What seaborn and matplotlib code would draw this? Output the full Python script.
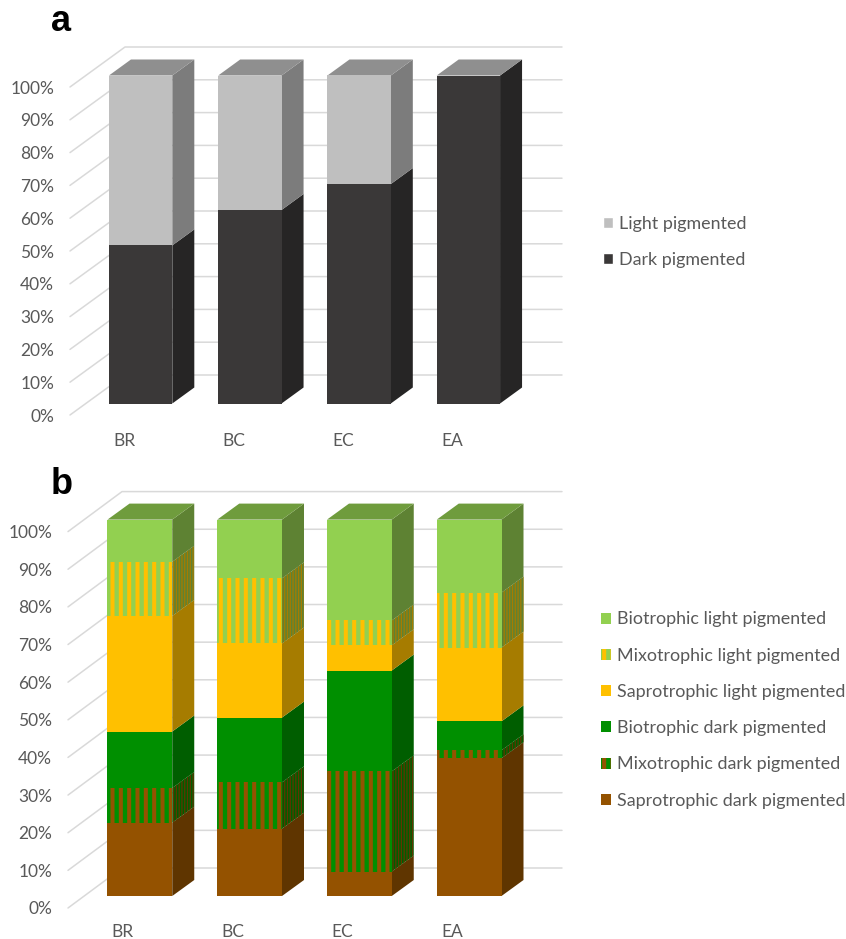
import matplotlib
matplotlib.use("Agg")
import matplotlib.pyplot as plt
import seaborn as sns
from matplotlib.patches import Patch, Polygon
from matplotlib.transforms import Affine2D, IdentityTransform

W, H = 846, 939

sites = ["BR", "BC", "EC", "EA"]
ticks = [0, 10, 20, 30, 40, 50, 60, 70, 80, 90, 100]
tick_labels = ["0%", "10%", "20%", "30%", "40%", "50%", "60%", "70%", "80%", "90%", "100%"]

# panel a
dark = [48.2, 59.0, 66.9, 100.0]
light = [51.8, 41.0, 33.1, 0.0]

# panel b
sap_dark = [19.5, 17.9, 6.5, 36.6]
mixo_dark = [9.2, 12.3, 26.6, 2.1]
bio_dark = [15.0, 17.2, 26.8, 7.7]
sap_light = [30.7, 19.7, 6.7, 19.6]
mixo_light = [14.4, 17.3, 6.6, 14.6]
bio_light = [11.2, 15.6, 26.8, 19.4]

GREY_TXT = "#595959"
GRID = "#D9D9D9"
C_LGREEN, C_ORANGE, C_GREEN, C_BROWN = "#92D050", "#FFC000", "#008F00", "#945200"
S_LGREEN, S_ORANGE, S_GREEN, S_BROWN = "#5E8233", "#A67C00", "#005E00", "#5F3500"

sns.set_style("white")
plt.rcParams["font.family"] = ["Lato", "DejaVu Sans"]
plt.rcParams["hatch.linewidth"] = 2.9


def make_axes(fig, left, right, y0, y100):
    ax = fig.add_axes([left / W, (H - y0) / H, (right - left) / W, (y0 - y100) / H])
    return ax


def wall(ax, back=(55, 40), right_end=562):
    # side lines + back wall of the fake 3d box
    for t in ticks:
        x0, y0 = ax.transData.transform((-0.5, t))
        x1, y1 = x0 + back[0], y0 + back[1]
        ax.plot([x0, x1, right_end], [y0, y1, y1], color=GRID, lw=1.1,
                transform=IdentityTransform(), clip_on=False, zorder=0)


def stacked(ax, layers, shift, depth=(22, 16), width=0.58):
    bottoms = [0.0] * len(sites)
    for vals, front, side, stripe, side_stripe, top in layers:
        sns.barplot(x=sites, y=vals, bottom=bottoms, color=front, saturation=1,
                    width=width, linewidth=0, ax=ax, zorder=3)
        for p in ax.containers[-1].patches:
            h = p.get_height()
            if h <= 0:
                p.set_visible(False)
                continue
            p.set_transform(ax.transData + Affine2D().translate(*shift))
            p.set_clip_on(False)
            if stripe:
                p.set_edgecolor(stripe)
                p.set_hatch("||")
            # side face
            x1 = p.get_x() + p.get_width()
            y0 = p.get_y()
            a = ax.transData.transform((x1, y0)) + shift
            b = ax.transData.transform((x1, y0 + h)) + shift
            pts = [a, b, (b[0] + depth[0], b[1] + depth[1]), (a[0] + depth[0], a[1] + depth[1])]
            s = Polygon(pts, closed=True, facecolor=side, lw=0, clip_on=False,
                        transform=IdentityTransform(), zorder=2)
            if side_stripe:
                s.set_edgecolor(side_stripe)
                s.set_hatch("||||||")
                s.set_hatch_linewidth(0.9)
            ax.add_patch(s)
            if top and y0 + h >= 99.9:
                xl = ax.transData.transform((p.get_x(), y0 + h)) + shift
                pts = [xl, b, (b[0] + depth[0], b[1] + depth[1]), (xl[0] + depth[0], xl[1] + depth[1])]
                ax.add_patch(Polygon(pts, closed=True, facecolor=top, lw=0, clip_on=False,
                                     transform=IdentityTransform(), zorder=2))
        bottoms = [b + v for b, v in zip(bottoms, vals)]


def finish(ax, xpad):
    ax.set_xlim(-0.5, 3.5)
    ax.set_ylim(0, 100)
    ax.set_yticks(ticks, tick_labels)
    ax.tick_params(axis="y", length=0, pad=11.5, labelsize=12.5, labelcolor=GREY_TXT)
    ax.tick_params(axis="x", length=0, pad=xpad, labelsize=12.5, labelcolor=GREY_TXT)
    ax.set_xlabel("")
    ax.set_ylabel("")
    ax.patch.set_alpha(0)
    sns.despine(ax=ax, left=True, bottom=True)


fig = plt.figure(figsize=(W / 100, H / 100), dpi=100)

# a
ax_a = make_axes(fig, 70, 507, 415, 87)
finish(ax_a, 13)
wall(ax_a)
stacked(ax_a, [
    (dark, "#3A3838", "#262525", None, None, "#8F8F8F"),
    (light, "#BFBFBF", "#7C7C7C", None, None, "#8F8F8F"),
], (16, 11.5))
finish(ax_a, 13)

# b
ax_b = make_axes(fig, 68, 507, 908, 531.6)
finish(ax_b, 11.5)
wall(ax_b, back=(54, 40))
stacked(ax_b, [
    (sap_dark, C_BROWN, S_BROWN, None, None, None),
    (mixo_dark, C_GREEN, S_GREEN, C_BROWN, S_BROWN, None),
    (bio_dark, C_GREEN, S_GREEN, None, None, None),
    (sap_light, C_ORANGE, S_ORANGE, None, None, None),
    (mixo_light, C_LGREEN, S_LGREEN, C_ORANGE, S_ORANGE, None),
    (bio_light, C_LGREEN, S_LGREEN, None, None, "#6F9C3D"),
], (17, 12), width=0.59)
finish(ax_b, 11.5)

# legends
handles_a = [Patch(facecolor="#BFBFBF", label="Light pigmented"),
             Patch(facecolor="#3A3838", label="Dark pigmented")]
fig.legend(handles=handles_a, loc="center left", bbox_to_anchor=(603 / W, 1 - 242 / H),
           frameon=False, fontsize=12.9, labelcolor=GREY_TXT, handlelength=0.57, handleheight=0.57,
           handletextpad=0.3, labelspacing=1.13, borderpad=0, borderaxespad=0)

handles_b = [Patch(facecolor=C_LGREEN, lw=0, label="Biotrophic light pigmented"),
             Patch(facecolor=C_LGREEN, edgecolor=C_ORANGE, hatch="||", lw=0, label="Mixotrophic light pigmented"),
             Patch(facecolor=C_ORANGE, lw=0, label="Saprotrophic light pigmented"),
             Patch(facecolor=C_GREEN, lw=0, label="Biotrophic dark pigmented"),
             Patch(facecolor=C_GREEN, edgecolor=C_BROWN, hatch="||", lw=0, label="Mixotrophic dark pigmented"),
             Patch(facecolor=C_BROWN, lw=0, label="Saprotrophic dark pigmented")]
fig.legend(handles=handles_b, loc="center left", bbox_to_anchor=(601 / W, 1 - 710 / H),
           frameon=False, fontsize=12.9, labelcolor=GREY_TXT, handlelength=0.57, handleheight=0.57,
           handletextpad=0.3, labelspacing=1.13, borderpad=0, borderaxespad=0)

# panel letters
fig.text(51 / W, 1 - 31 / H, "a", family="Liberation Sans", weight="bold", fontsize=26, color="black")
fig.text(51 / W, 1 - 494 / H, "b", family="Liberation Sans", weight="bold", fontsize=26, color="black")

fig.savefig("out.png", dpi=100)
